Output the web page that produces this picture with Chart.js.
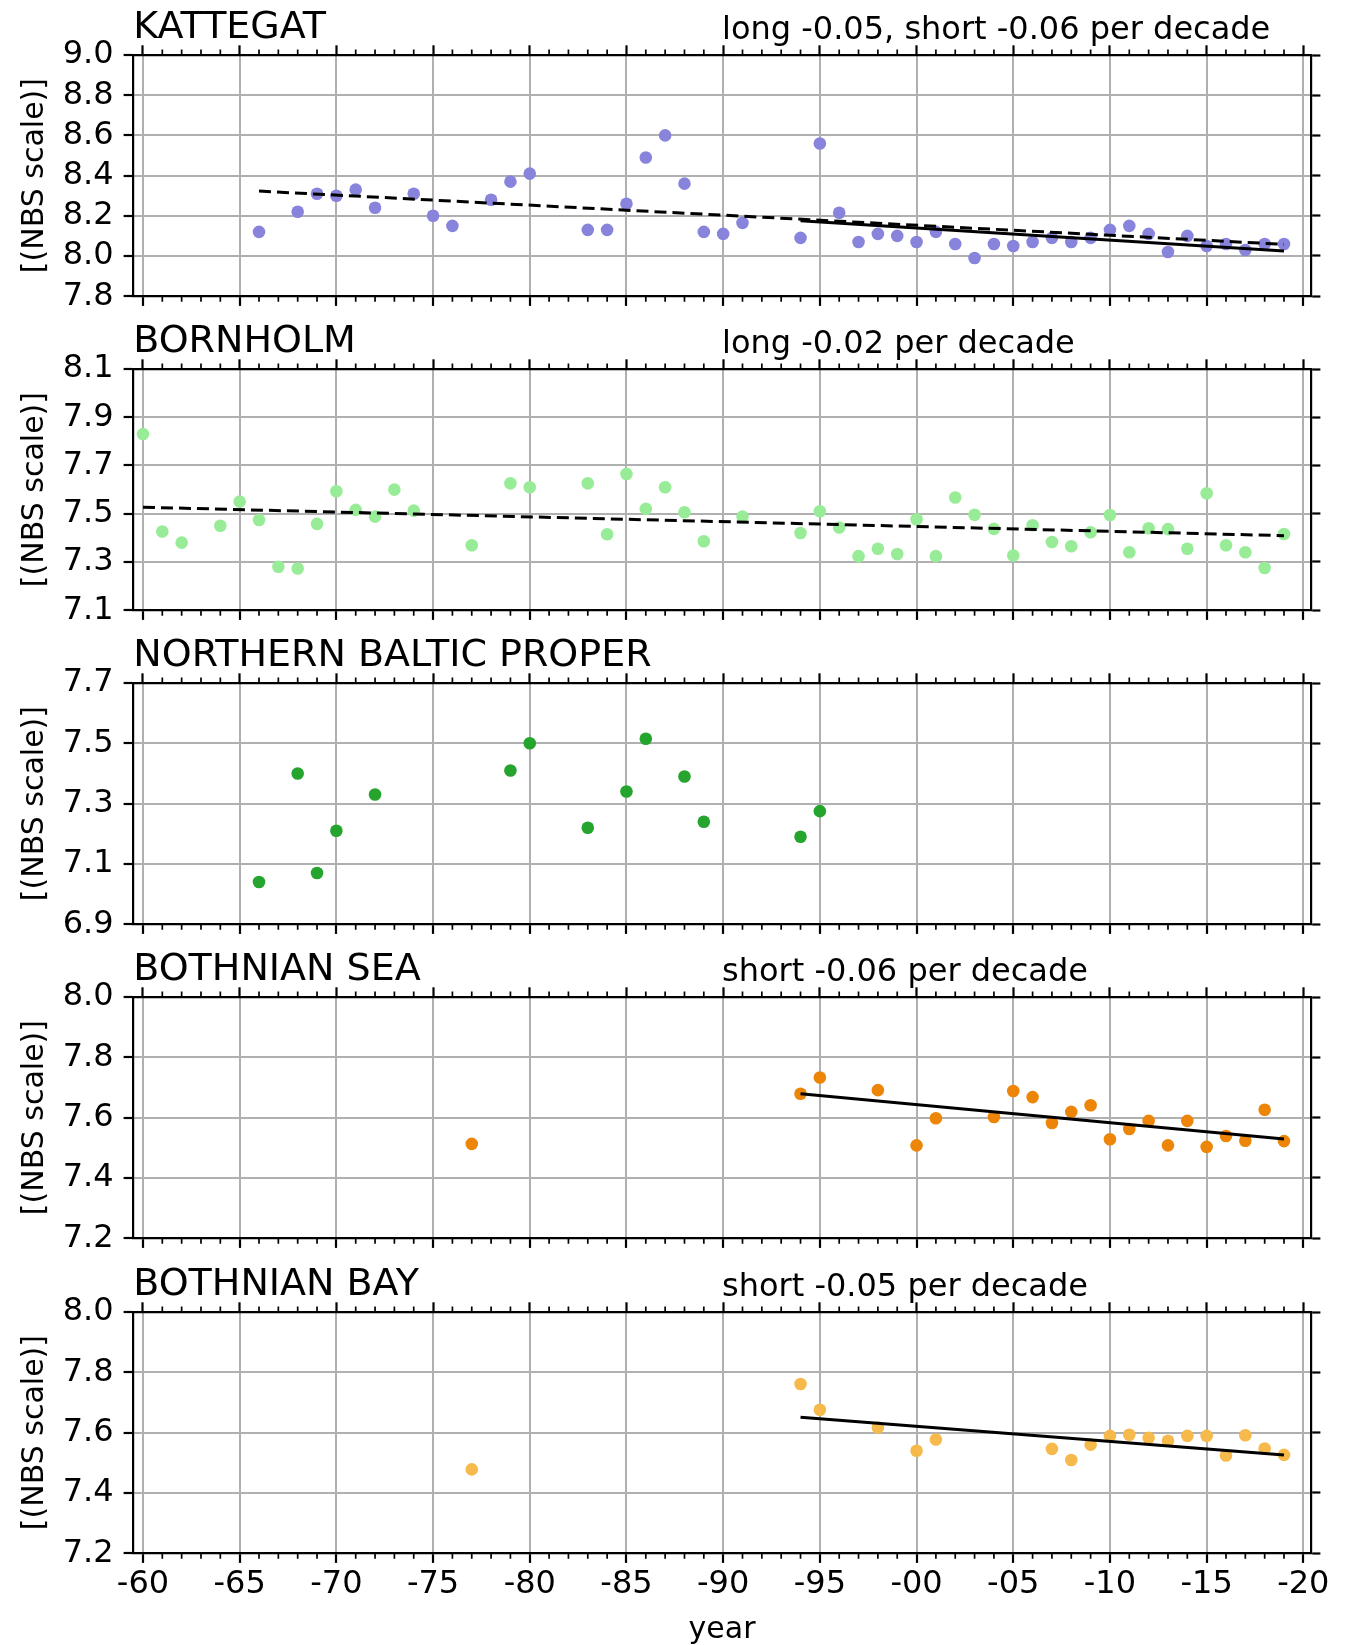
<!DOCTYPE html>
<html lang="en">
<head>
    <meta charset="UTF-8">
    <meta name="viewport" content="width=device-width, initial-scale=1.0">
    <title>Surface pH, Swedish monitoring stations</title>
    <style>
        html, body { margin: 0; padding: 0; background: #fff; }
        .main { position: relative; width: 1360px; height: 1645px; }
        .main canvas { position: absolute; left: 0; }
    </style>
</head>
<body>
    <div class="main" id="main"></div>

    <script src="https://cdn.jsdelivr.net/npm/chart.js"></script>

<script>
    // --- measured pH per station (year, value) ---
    const kattegatYears = [1966, 1968, 1969, 1970, 1971, 1972, 1974, 1975, 1976, 1978, 1979, 1980,
        1983, 1984, 1985, 1986, 1987, 1988, 1989, 1990, 1991,
        1994, 1995, 1996, 1997, 1998, 1999, 2000, 2001, 2002, 2003, 2004, 2005, 2006,
        2007, 2008, 2009, 2010, 2011, 2012, 2013, 2014, 2015, 2016, 2017, 2018, 2019];
    const kattegatPH = [8.12, 8.22, 8.31, 8.30, 8.33, 8.24, 8.31, 8.20, 8.15, 8.28, 8.37, 8.41,
        8.13, 8.13, 8.26, 8.49, 8.60, 8.36, 8.12, 8.11, 8.165,
        8.09, 8.56, 8.215, 8.07, 8.11, 8.10, 8.07, 8.12, 8.06, 7.99, 8.06, 8.05, 8.07,
        8.09, 8.07, 8.09, 8.13, 8.15, 8.11, 8.02, 8.10, 8.05, 8.06, 8.03, 8.06, 8.06];

    const bornholmYears = [1960, 1961, 1962, 1964, 1965, 1966, 1967, 1968, 1969, 1970, 1971, 1972, 1973, 1974,
        1977, 1979, 1980, 1983, 1984, 1985, 1986, 1987, 1988, 1989, 1991,
        1994, 1995, 1996, 1997, 1998, 1999, 2000, 2001, 2002, 2003, 2004, 2005, 2006,
        2007, 2008, 2009, 2010, 2011, 2012, 2013, 2014, 2015, 2016, 2017, 2018, 2019];
    const bornholmPH = [7.83, 7.426, 7.38, 7.45, 7.55, 7.474, 7.28, 7.273, 7.458, 7.593, 7.516, 7.488, 7.60, 7.513,
        7.369, 7.626, 7.61, 7.626, 7.415, 7.665, 7.52, 7.61, 7.506, 7.386, 7.488,
        7.42, 7.51, 7.443, 7.324, 7.355, 7.333, 7.477, 7.324, 7.567, 7.496, 7.437, 7.327, 7.452,
        7.383, 7.365, 7.423, 7.495, 7.34, 7.44, 7.436, 7.355, 7.585, 7.369, 7.34, 7.275, 7.416];

    const nbpYears = [1966, 1968, 1969, 1970, 1972, 1979, 1980, 1983, 1985, 1986, 1988, 1989, 1994, 1995];
    const nbpPH = [7.04, 7.40, 7.07, 7.21, 7.33, 7.41, 7.50, 7.22, 7.34, 7.515, 7.39, 7.24, 7.19, 7.275];

    const bothnianSeaYears = [1977, 1994, 1995, 1998, 2000, 2001, 2004, 2005, 2006, 2007, 2008,
        2009, 2010, 2011, 2012, 2013, 2014, 2015, 2016, 2017, 2018, 2019];
    const bothnianSeaPH = [7.513, 7.679, 7.733, 7.691, 7.508, 7.598, 7.602, 7.688, 7.668, 7.582, 7.619,
        7.641, 7.528, 7.562, 7.589, 7.508, 7.589, 7.503, 7.539, 7.523, 7.626, 7.522];

    const bothnianBayYears = [1977, 1994, 1995, 1998, 2000, 2001, 2007, 2008, 2009, 2010,
        2011, 2012, 2013, 2014, 2015, 2016, 2017, 2018, 2019];
    const bothnianBayPH = [7.478, 7.761, 7.676, 7.617, 7.540, 7.577, 7.546, 7.509, 7.560, 7.589,
        7.593, 7.583, 7.573, 7.589, 7.589, 7.524, 7.591, 7.547, 7.526];

    // linear trends: [first year, last year, value at first year, change per decade]
    const kattegatLong = [1966, 2019, 8.323, -0.05];
    const kattegatShort = [1994, 2019, 8.175, -0.06];
    const bornholmLong = [1960, 2019, 7.527, -0.02];
    const bothnianSeaShort = [1994, 2019, 7.679, -0.06];
    const bothnianBayShort = [1994, 2019, 7.651, -0.05];

    // --- axis ticks ---
    const yearTicks = [1960, 1965, 1970, 1975, 1980, 1985, 1990, 1995, 2000, 2005, 2010, 2015, 2020];
    const kattegatTicks = [7.8, 8.0, 8.2, 8.4, 8.6, 8.8, 9.0];
    const bornholmTicks = [7.1, 7.3, 7.5, 7.7, 7.9, 8.1];
    const nbpTicks = [6.9, 7.1, 7.3, 7.5, 7.7];
    const bothnianSeaTicks = [7.2, 7.4, 7.6, 7.8, 8.0];
    const bothnianBayTicks = [7.2, 7.4, 7.6, 7.8, 8.0];

    // --- layout / style ---
    const FONT = '"DejaVu Sans", "Liberation Sans", sans-serif';
    const X_MIN = 1959.5, X_MAX = 2020.38;
    const PLOT_LEFT = 133.3, PLOT_RIGHT = 1310.7, PLOT_TOP = 55, PLOT_H = 241.2;
    const canvasTops = [0, 314, 628, 942, 1257];
    const PAGE_H = 1645;
    const GRID = '#b0b0b0';

    const panels = [
        { name: 'KATTEGAT', years: kattegatYears, values: kattegatPH, color: '#8884dc',
          ticks: kattegatTicks, long: kattegatLong, short: kattegatShort },
        { name: 'BORNHOLM', years: bornholmYears, values: bornholmPH, color: '#98ec98',
          ticks: bornholmTicks, long: bornholmLong, short: null },
        { name: 'NORTHERN BALTIC PROPER', years: nbpYears, values: nbpPH, color: '#25a52d',
          ticks: nbpTicks, long: null, short: null },
        { name: 'BOTHNIAN SEA', years: bothnianSeaYears, values: bothnianSeaPH, color: '#ec8508',
          ticks: bothnianSeaTicks, long: null, short: bothnianSeaShort },
        { name: 'BOTHNIAN BAY', years: bothnianBayYears, values: bothnianBayPH, color: '#f5b94c',
          ticks: bothnianBayTicks, long: null, short: bothnianBayShort }
    ];

    let trendLine = (t) => {
        const [x0, x1, y0, perDecade] = t;
        return [{ x: x0, y: y0 }, { x: x1, y: y0 + perDecade * (x1 - x0) / 10 }];
    };

    let trendNote = (p) => {
        const parts = [];
        if (p.long) parts.push(`long ${p.long[3].toFixed(2)}`);
        if (p.short) parts.push(`short ${p.short[3].toFixed(2)}`);
        return parts.length ? parts.join(', ') + ' per decade' : '';
    };

    // station name on the left, trend summary from the middle of the axes
    const panelText = {
        id: 'panelText',
        afterDraw(chart, args, opts) {
            const { ctx, chartArea } = chart;
            ctx.save();
            ctx.fillStyle = '#000';
            ctx.textAlign = 'left';
            ctx.textBaseline = 'alphabetic';
            ctx.font = `38px ${FONT}`;
            ctx.fillText(opts.title, chartArea.left, chartArea.top - 16.7);
            if (opts.note) {
                ctx.font = `32px ${FONT}`;
                ctx.fillText(opts.note, chartArea.left + chartArea.width * 0.5, chartArea.top - 15.7);
            }
            ctx.restore();
        }
    };

    // yearly minor ticks on top and bottom spines
    const minorTicks = {
        id: 'minorTicks',
        afterDraw(chart) {
            const { ctx, chartArea: a } = chart;
            const x = chart.scales.x;
            ctx.save();
            ctx.strokeStyle = '#000';
            ctx.lineWidth = 1.7;
            ctx.beginPath();
            for (let yr = Math.ceil(X_MIN); yr <= X_MAX; yr++) {
                if (yr % 5 === 0) continue;
                const px = x.getPixelForValue(yr);
                ctx.moveTo(px, a.bottom);
                ctx.lineTo(px, a.bottom + 5.6);
                ctx.moveTo(px, a.top);
                ctx.lineTo(px, a.top - 5.6);
            }
            ctx.stroke();
            ctx.restore();
        }
    };

    const main = document.getElementById('main');

    panels.forEach((p, i) => {
        const isLast = i === panels.length - 1;
        const top = canvasTops[i];
        const h = isLast ? PAGE_H - top : canvasTops[i + 1] - top;

        const canvas = document.createElement('canvas');
        canvas.width = 1360;
        canvas.height = h;
        canvas.style.top = top + 'px';
        main.appendChild(canvas);

        const yMin = p.ticks[0], yMax = p.ticks[p.ticks.length - 1];

        const datasets = [];
        if (p.long) {
            datasets.push({ data: trendLine(p.long), showLine: true, pointRadius: 0,
                borderColor: '#000', borderWidth: 3, borderDash: [12, 6], order: 0 });
        }
        if (p.short) {
            datasets.push({ data: trendLine(p.short), showLine: true, pointRadius: 0,
                borderColor: '#000', borderWidth: 3, order: 1 });
        }
        datasets.push({
            data: p.years.map((yr, k) => ({ x: yr, y: p.values[k] })),
            pointRadius: 6.3, pointBorderWidth: 0,
            backgroundColor: p.color, borderColor: p.color, order: 2
        });

        const tickMarks = { tickColor: '#000', tickLength: 9.7, tickWidth: 2.2 };
        const spine = { color: '#000', width: 2.2 };
        // y scales: fixed width, and no extra room reserved for the end labels
        const fitY = (w) => (s) => { s.width = w; s.paddingTop = 0; s.paddingBottom = 0; };

        new Chart(canvas, {
            type: 'scatter',
            data: { datasets },
            options: {
                responsive: false,
                animation: false,
                events: [],
                layout: { padding: 0 },
                plugins: {
                    legend: { display: false },
                    tooltip: { enabled: false },
                    panelText: { title: p.name, note: trendNote(p) }
                },
                scales: {
                    x: {
                        type: 'linear', position: 'bottom', min: X_MIN, max: X_MAX,
                        afterBuildTicks: s => { s.ticks = yearTicks.map(v => ({ value: v })); },
                        afterFit: s => { s.height = h - PLOT_TOP - PLOT_H; s.paddingLeft = 0; s.paddingRight = 0; },
                        grid: { color: GRID, lineWidth: 2, ...tickMarks },
                        border: spine,
                        ticks: {
                            display: isLast, color: '#000', padding: 3, maxRotation: 0, autoSkip: false,
                            font: { family: FONT, size: 32 },
                            callback: v => '-' + String(v % 100).padStart(2, '0')
                        },
                        title: {
                            display: isLast, text: 'year', color: '#000',
                            font: { family: FONT, size: 30, lineHeight: 1.0 }, padding: { top: 0, bottom: 0 }
                        }
                    },
                    xTop: {
                        type: 'linear', axis: 'x', position: 'top', min: X_MIN, max: X_MAX,
                        afterBuildTicks: s => { s.ticks = yearTicks.map(v => ({ value: v })); },
                        afterFit: s => { s.height = PLOT_TOP; },
                        grid: { drawOnChartArea: false, ...tickMarks },
                        border: spine,
                        ticks: { display: false }
                    },
                    y: {
                        type: 'linear', position: 'left', min: yMin, max: yMax,
                        afterBuildTicks: s => { s.ticks = p.ticks.map(v => ({ value: v })); },
                        afterFit: fitY(PLOT_LEFT),
                        grid: { color: GRID, lineWidth: 2, ...tickMarks },
                        border: spine,
                        ticks: {
                            color: '#000', padding: 10, autoSkip: false, font: { family: FONT, size: 32 },
                            callback: v => v.toFixed(1)
                        },
                        title: {
                            display: true, text: '[(NBS scale)]', color: '#000',
                            font: { family: FONT, size: 30 }, padding: { top: 17, bottom: 0 }
                        }
                    },
                    yRight: {
                        type: 'linear', axis: 'y', position: 'right', min: yMin, max: yMax,
                        afterBuildTicks: s => { s.ticks = p.ticks.map(v => ({ value: v })); },
                        afterFit: fitY(1360 - PLOT_RIGHT),
                        grid: { drawOnChartArea: false, ...tickMarks },
                        border: spine,
                        ticks: { display: false }
                    }
                }
            },
            plugins: [minorTicks, panelText]
        });
    });
</script>

</body>
</html>
